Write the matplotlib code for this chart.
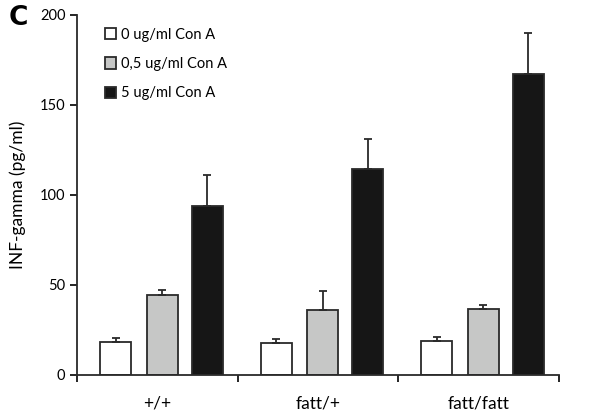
import matplotlib.pyplot as plt
import numpy as np

plt.rcParams['font.family'] = ['Lato', 'DejaVu Sans']

groups = ['+/+', 'fatt/+', 'fatt/fatt']
labels = ['0 ug/ml Con A', '0,5 ug/ml Con A', '5 ug/ml Con A']
vals_0 = [18.3, 17.8, 19.0]
vals_05 = [44.4, 36.0, 36.7]
vals_5 = [94.0, 114.2, 167.0]
err_0 = [2.2, 2.2, 2.0]
err_05 = [2.6, 10.5, 2.2]
err_5 = [17.0, 17.0, 23.0]

colors = ['white', '#c6c7c6', '#161616']

fig = plt.figure(figsize=(6.08, 4.18), dpi=100)
ax = fig.add_axes([0.127, 0.103, 0.792, 0.862])

x = np.arange(len(groups))
w = 0.195
offs = [-0.26, 0.03, 0.31]
for vals, errs, c, lab, o in zip([vals_0, vals_05, vals_5], [err_0, err_05, err_5], colors, labels, offs):
    ax.bar(x + o, vals, w, color=c, edgecolor='#2a2a2a', linewidth=1.3, label=lab,
           yerr=[np.zeros(3), errs], error_kw=dict(ecolor='#2a2a2a', elinewidth=1.3, capsize=3, capthick=1.3))

ax.set_xlim(-0.5, 2.5)
ax.set_ylim(0, 200)
ax.set_yticks([0, 50, 100, 150, 200])
ax.set_xticks(x)
ax.set_xticklabels(groups, fontsize=12.5)
ax.set_xticks([-0.5, 0.5, 1.5, 2.5], minor=True)
ax.tick_params(axis='x', which='major', length=0, pad=15)
ax.tick_params(axis='x', which='minor', length=5, direction='out', width=1.2)
ax.tick_params(axis='y', labelsize=10.5, length=5, width=1.2, direction='out')
ax.spines['top'].set_visible(False)
ax.spines['right'].set_visible(False)
ax.spines['left'].set_linewidth(1.3)
ax.spines['bottom'].set_linewidth(1.3)
ax.spines['left'].set_color('#2a2a2a')
ax.spines['bottom'].set_color('#2a2a2a')
ax.set_ylabel('INF-gamma (pg/ml)', fontsize=12.5, labelpad=10)

ax.legend(loc='upper left', bbox_to_anchor=(0.03, 1.0), frameon=False, fontsize=10.5,
          handlelength=0.8, handleheight=0.8, handletextpad=0.3, labelspacing=1.05)

fig.text(0.015, 0.94, 'C', fontsize=19, fontweight='bold', family='DejaVu Sans')

fig.savefig('out.png', dpi=100)
